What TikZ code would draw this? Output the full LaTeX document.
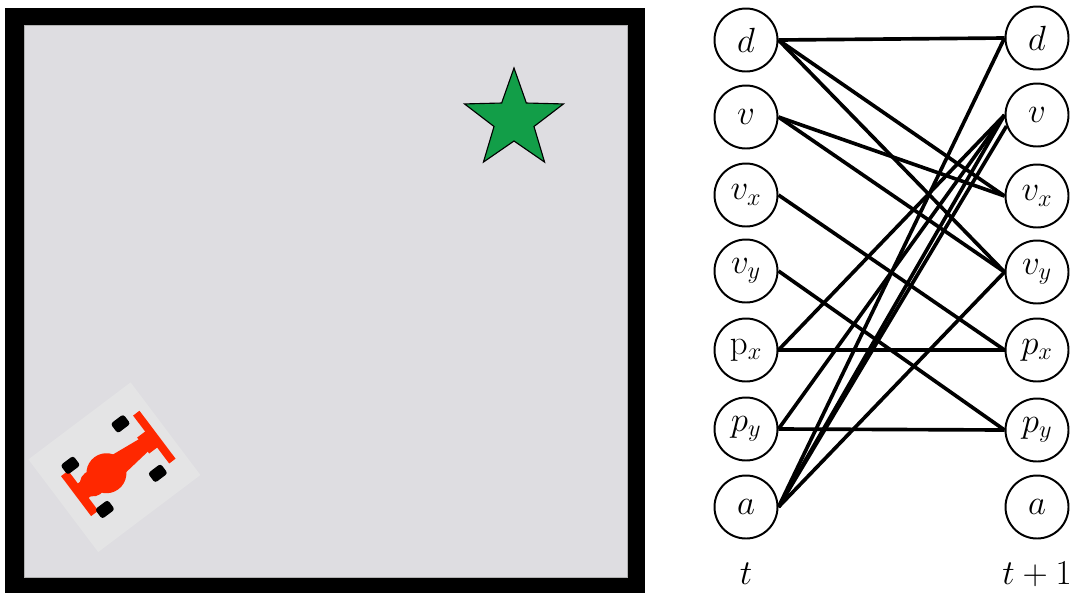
\documentclass[tikz,border=0pt]{standalone}
\usepackage{amsmath}
\definecolor{trackgray}{RGB}{222,221,225}
\definecolor{goalgreen}{RGB}{18,158,72}
\definecolor{carred}{RGB}{255,40,0}
\definecolor{shadegray}{RGB}{228,228,229}
\begin{document}
\begin{tikzpicture}[x=0.25mm,y=-0.25mm,font=\fontsize{26}{30}\selectfont]
  \useasboundingbox (0,0) rectangle (1072,593);

  % track
  \fill[black] (5,8) rectangle (645,593);
  \filldraw[fill=trackgray,draw=gray!60,line width=0.5pt] (24,25) rectangle (627,577);

  % goal
  \begin{scope}[shift={(514,120)}]
    \filldraw[fill=goalgreen,draw=black,line width=0.8pt] (-90:52)
      \foreach \k in {0,...,4} {-- ({-54+72*\k}:21) -- ({-18+72*\k}:52)} -- cycle;
  \end{scope}

  % car
  \begin{scope}[shift={(116,466)},rotate=37]
    \fill[shadegray] (-66,-58) rectangle (62,58);
    \fill[carred] (-50,-25) rectangle (-41,25);
    \fill[carred] (-46,-9) rectangle (-22,9);
    \fill[carred] (-29,0) circle (13);
    \fill[carred] (-12,0) circle (20);
    \fill[carred] (-4,-12) -- (40,-7) -- (40,7) -- (-4,12) -- cycle;
    \fill[carred] (34,-10) rectangle (46,10);
    \fill[carred] (44,-30) rectangle (52,30);
    \foreach \x/\y in {29/-31, 29/31, -36/-28, -35/28}
      \fill[black,rounded corners=2pt] (\x-8,\y-6) rectangle (\x+8,\y+6);
  \end{scope}

  \begin{scope}[every node/.style={circle,draw,line width=1.4pt,minimum size=15.75mm,inner sep=0pt}]
    \node (d0)  at (746,40)  {$d$};
    \node (v0)  at (746,117) {$v$};
    \node (vx0) at (746,195) {$v_x$};
    \node (vy0) at (746,271) {$v_y$};
    \node (px0) at (746,350) {$\mathrm{p}_x$};
    \node (py0) at (746,429) {$p_y$};
    \node (a0)  at (746,507) {$a$};
    \node (d1)  at (1037,38)  {$d$};
    \node (v1)  at (1037,115) {$v$};
    \node (vx1) at (1037,196) {$v_x$};
    \node (vy1) at (1037,272) {$v_y$};
    \node (px1) at (1037,350) {$p_x$};
    \node (py1) at (1037,430) {$p_y$};
    \node (a1)  at (1037,507) {$a$};
  \end{scope}

  \node (t0) at (746,574)  {$t$};
  \node (t1) at (1037,574) {$t+1$};

  \begin{scope}[every edge/.style={draw,line width=2.6pt}]
    \path (d0.east)  edge (d1.west);
    \path (d0.east)  edge (vx1.west);
    \path (d0.east)  edge (vy1.west);
    \path (v0.east)  edge (vx1.west);
    \path (v0.east)  edge (vy1.west);
    \path (vx0.east) edge (px1.west);
    \path (vy0.east) edge (py1.west);
    \path (px0.east) edge (px1.west);
    \path (px0.east) edge (v1.west);
    \path (py0.east) edge (py1.west);
    \path (py0.east) edge (v1.west);
    \path (a0.east)  edge (d1.west);
    \path (a0.east)  edge (v1.west);
    \path (a0.east)  edge (v1.200);
    \path (a0.east)  edge (vy1.west);
  \end{scope}

\end{tikzpicture}
\end{document}
